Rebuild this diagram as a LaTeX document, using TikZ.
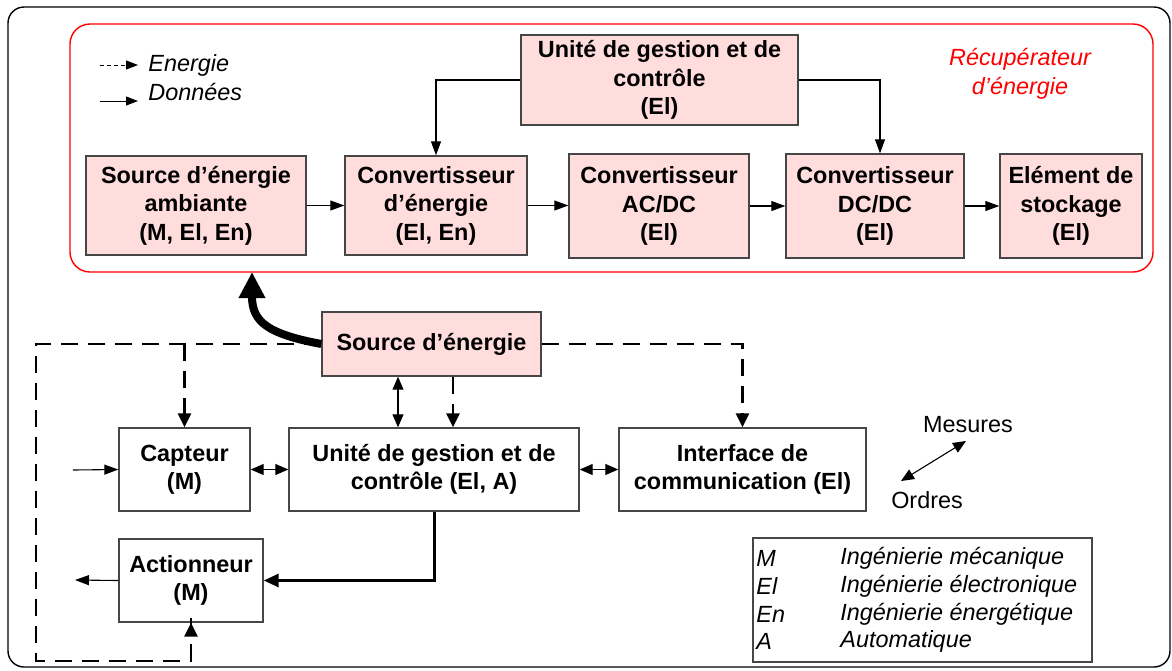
\documentclass[tikz,border=0pt]{standalone}
\usepackage{fontspec}
\setmainfont{Liberation Sans}
\usetikzlibrary{arrows.meta}
\definecolor{pinkc}{RGB}{255,221,221}
\definecolor{edgec}{RGB}{70,70,70}
\tikzset{
  base/.style={draw=edgec, line width=0.7pt, inner sep=0pt, align=center, font=\fontsize{11.7}{14.25}\selectfont\bfseries},
  pk/.style={base, fill=pinkc},
  wb/.style={base, fill=white},
  arr/.style={-{Triangle[length=7pt,width=5pt]}, line width=0.55pt},
  sarr/.style={{Triangle[length=6.5pt,width=5.5pt]}-{Triangle[length=6.5pt,width=5.5pt]}, line width=0.55pt},
  enarr/.style={line width=1.3pt, dash pattern=on 8.5pt off 5pt, -{Triangle[length=7pt,width=6.5pt]}},
  enline/.style={line width=1.3pt, dash pattern=on 8.5pt off 5pt},
  lbl/.style={inner sep=0pt, font=\fontsize{11.7}{14.25}\selectfont},
}
\begin{document}
\begin{tikzpicture}[x=0.5pt,y=-0.5pt]
\useasboundingbox (0,0) rectangle (1172,670);
% outer frame
\draw[line width=0.7pt, rounded corners=8pt] (8,7) rectangle (1170,667);
% energy harvester frame
\node[draw=red, line width=0.7pt, rounded corners=10pt, minimum width=541.5pt, minimum height=124pt, inner sep=0pt] (recup) at (611.5,148) {};
\node[lbl, text=red, font=\fontsize{11.7}{14.25}\selectfont\itshape, align=center] (recuplbl) at (1020,74) {Récupérateur\\d’énergie};

% legend arrows
\coordinate (le1) at (100,65); \coordinate (le2) at (138,65);
\coordinate (ld1) at (100,101); \coordinate (ld2) at (138,101);
\draw[line width=0.5pt, dash pattern=on 2pt off 1.5pt, -{Triangle[length=6pt,width=4.5pt]}] (le1) -- (le2);
\draw[line width=0.5pt, -{Triangle[length=6pt,width=4.5pt]}] (ld1) -- (ld2);
\node[lbl, anchor=west, font=\fontsize{11.7}{14.25}\selectfont\itshape] (len) at (148,65) {Energie};
\node[lbl, anchor=west, font=\fontsize{11.7}{14.25}\selectfont\itshape] (ldo) at (148,92) {Données};

% top boxes
\node[pk, minimum width=138.5pt, minimum height=45pt] (ugc) at (659.5,80) {Unité de gestion et de\\contrôle\\(El)};
\node[pk, minimum width=110pt, minimum height=49.5pt] (samb) at (196,205.5) {Source d’énergie\\ambiante\\(M, El, En)};
\node[pk, minimum width=91pt, minimum height=49.5pt] (conv) at (436,205.5) {Convertisseur\\d’énergie\\(El, En)};
\node[pk, minimum width=90pt, minimum height=52pt] (acdc) at (659,206) {Convertisseur\\AC/DC\\(El)};
\node[pk, minimum width=89pt, minimum height=52pt] (dcdc) at (875,206) {Convertisseur\\DC/DC\\(El)};
\node[pk, minimum width=71pt, minimum height=52pt] (stock) at (1071,206) {Elément de\\stockage\\(El)};

\draw[arr] (samb.east) -- (samb.east -| conv.west);
\draw[arr] (conv.east) -- (conv.east -| acdc.west);
\draw[arr] (acdc.east) -- (dcdc.west);
\draw[arr] (dcdc.east) -- (stock.west);
\draw[arr] (ugc.west) -| (conv.north);
\draw[arr] (ugc.east) -| ([xshift=2.5pt]dcdc.north);

% lower boxes
\node[pk, minimum width=109.5pt, minimum height=32pt] (src) at (431.5,344) {Source d’énergie};
\node[wb, minimum width=65.5pt, minimum height=41.5pt] (capt) at (184.5,469.5) {Capteur\\(M)};
\node[wb, minimum width=145pt, minimum height=41.5pt] (ugc2) at (434,469.5) {Unité de gestion et de\\contrôle (El, A)};
\node[wb, minimum width=123.5pt, minimum height=41.5pt] (iface) at (742.5,469.5) {Interface de\\communication (El)};
\node[wb, minimum width=72pt, minimum height=41.5pt] (act) at (191,580.5) {Actionneur\\(M)};

% energy distribution (dashed)
\coordinate (dl) at (36,344);
\coordinate (db) at (36,661);
\draw[enline] (src.west) -- (dl) -- (db) -| ([yshift=3pt]act.south);
\draw[enarr] (db -| act.south) -- (act.south);
\draw[enarr] (dl -| capt.north) -- (capt.north);
\draw[enarr] (src.east) -| (iface.north);
\draw[enarr] ([xshift=10.75pt]src.south) -- ([xshift=10.75pt]src.south |- ugc2.north);
\draw[sarr] ([xshift=-16.75pt]src.south) -- ([xshift=-16.75pt]src.south |- ugc2.north);

% thick arrow to harvester
\coordinate (tiph) at (252,272);
\draw[line width=4pt, -{Triangle[length=13pt,width=12.5pt]}] (src.west) .. controls (268,334) and (252,322) .. (tiph);

% data links
\coordinate (cin) at (73,470);
\coordinate (aout) at (75,580);
\draw[arr] (cin) -- (capt.west);
\draw[sarr] (capt.east) -- (ugc2.west);
\draw[sarr] (ugc2.east) -- (iface.west);
\draw[line width=1.5pt, -{Triangle[length=7.5pt,width=6.5pt]}] (ugc2.south) |- (act.east);
\draw[arr] (act.west) -- (aout);

% Mesures / Ordres
\node[lbl] (mes) at (968,425) {Mesures};
\node[lbl] (ord) at (927,500) {Ordres};
\coordinate (mo1) at (901,481);
\coordinate (mo2) at (966,441);
\draw[sarr] (mo1) -- (mo2);

% legend table
\node[draw=edgec, line width=0.7pt, minimum width=169.5pt, minimum height=62pt, inner sep=0pt] (leg) at (922.5,600) {};
\begin{scope}[every node/.style={lbl, anchor=west, font=\fontsize{11.7}{14.25}\selectfont\itshape}]
\node (a1) at (756,558) {M};
\node (a2) at (756,586) {El};
\node (a3) at (756,614) {En};
\node (a4) at (756,641) {A};
\node (b1) at (840,558) {Ingénierie mécanique};
\node (b2) at (840,586) {Ingénierie électronique};
\node (b3) at (840,614) {Ingénierie énergétique};
\node (b4) at (840,641) {Automatique};
\end{scope}
\end{tikzpicture}
\end{document}
